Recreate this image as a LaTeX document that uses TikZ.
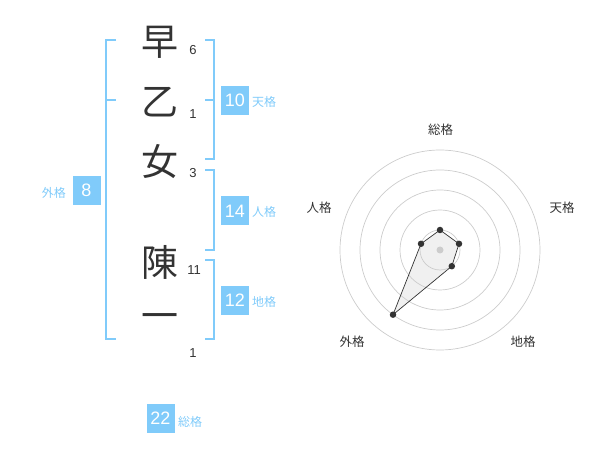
\documentclass[tikz,border=0pt]{standalone}
\usepackage{fontspec}
\setmainfont{Liberation Sans}
\newfontfamily\cjk{Noto Sans CJK JP}
\definecolor{kblue}{HTML}{80CBFA}
\definecolor{ink}{HTML}{333333}
\definecolor{ringgrey}{HTML}{CCCCCC}
\begin{document}
\begin{tikzpicture}[x=1pt,y=-1pt,
  kanji/.style={font=\cjk\fontsize{37}{37}\selectfont, text=ink, inner sep=0pt},
  stroke/.style={font=\fontsize{13}{13}\selectfont, text=ink, inner sep=0pt},
  numbox/.style={fill=kblue, text=white, minimum width=28pt, minimum height=29pt, inner sep=0pt, font=\fontsize{18}{18}\selectfont},
  kaku/.style={text=kblue, font=\cjk\fontsize{12}{12}\selectfont, inner sep=0pt},
  bracket/.style={draw=kblue, line width=2pt},
  ring/.style={draw=ringgrey, line width=0.7pt},
  rlabel/.style={text=ink, font=\cjk\fontsize{12.5}{12.5}\selectfont, inner sep=0pt},
  dot/.style={circle, fill=ink, minimum size=6.5pt, inner sep=0pt}]
\useasboundingbox (0,0) rectangle (600,470);
% characters
\node[kanji] (c1) at (160,42) {早};
\node[kanji] (c2) at (160,102) {乙};
\node[kanji] (c3) at (160,162) {女};
\node[kanji] (c4) at (160,262) {陳};
\node[kanji] (c5) at (160,322) {一};
% stroke counts
\node[stroke] (s1) at (193,50) {6};
\node[stroke] (s2) at (193,114) {1};
\node[stroke] (s3) at (193,173) {3};
\node[stroke] (s4) at (194,270) {11};
\node[stroke] (s5) at (193,353) {1};
% left bracket
\draw[bracket] (116,40) -- (106,40) -- (106,339) -- (116,339);
\draw[bracket] (106,100) -- (116,100);
% right brackets
\draw[bracket] (205,40) -- (214,40) -- (214,159) -- (205,159);
\draw[bracket] (205,100) -- (214,100);
\draw[bracket] (205,170) -- (214,170) -- (214,250) -- (205,250);
\draw[bracket] (205,260) -- (214,260) -- (214,339) -- (205,339);
% boxes
\node[numbox] (ten) at (235,100.5) {10};
\node[kaku, anchor=west] (tenl) at (252,102) {天格};
\node[numbox] (jin) at (235,211) {14};
\node[kaku, anchor=west] (jinl) at (252,212) {人格};
\node[numbox] (chi) at (235,300.5) {12};
\node[kaku, anchor=west] (chil) at (252,302) {地格};
\node[numbox] (gai) at (86.5,190.5) {8};
\node[kaku, anchor=east] (gail) at (66,193) {外格};
\node[numbox] (sou) at (160.5,418.5) {22};
\node[kaku, anchor=west] (soul) at (178,422) {総格};
% radar
\coordinate (C) at (440,250);
\foreach \r in {20,40,60,80,100} \draw[ring] (C) circle[radius=\r];
\coordinate (pS) at (440,230);
\coordinate (pT) at (459.0,243.8);
\coordinate (pC) at (451.8,266.2);
\coordinate (pG) at (393.0,314.7);
\coordinate (pJ) at (421.0,243.8);
\filldraw[draw=ink, line width=0.7pt, fill=ringgrey, fill opacity=0.3] (pS) -- (pT) -- (pC) -- (pG) -- (pJ) -- cycle;
\node[circle, fill=ringgrey, minimum size=7pt, inner sep=0pt] (cd) at (C) {};
\node[dot] (dS) at (pS) {};
\node[dot] (dT) at (pT) {};
\node[dot] (dC) at (pC) {};
\node[dot] (dG) at (pG) {};
\node[dot] (dJ) at (pJ) {};
\node[rlabel] (lS) at (440.5,130) {総格};
\node[rlabel] (lT) at (562,208) {天格};
\node[rlabel] (lC) at (523,342) {地格};
\node[rlabel] (lG) at (352,342) {外格};
\node[rlabel] (lJ) at (319,208) {人格};
\end{tikzpicture}
\end{document}
